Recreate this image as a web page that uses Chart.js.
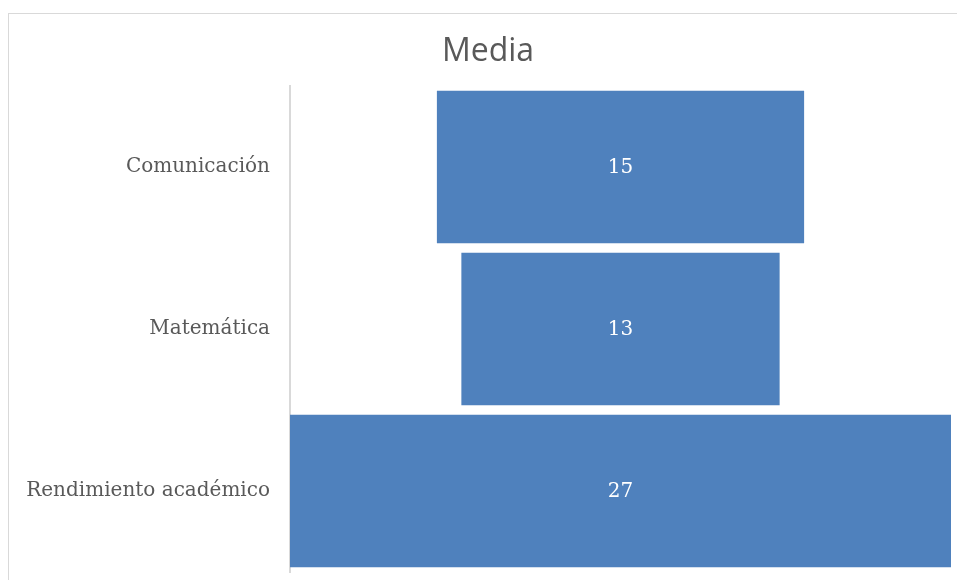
<!DOCTYPE html>
<html>
<head>
<meta charset="utf-8">
<script src="https://cdn.jsdelivr.net/npm/chart.js@4"></script>
<style>
  html, body { margin: 0; padding: 0; background: #fff; overflow: hidden; }
  #frame {
    position: absolute; left: 8px; top: 13px; width: 960px; height: 590px;
    border-top: 1px solid #d9d9d9; border-left: 1px solid #d9d9d9;
  }
  #chart { position: absolute; left: 0; top: 0; }
</style>
</head>
<body>
<div id="frame"><canvas id="chart" width="960" height="582"></canvas></div>
<script>
// datos del embudo
const categorias = ['Comunicación', 'Matemática', 'Rendimiento académico'];
const valores = [15, 13, 27];
const maximo = 27;

const labelFont = '"DejaVu Serif", "Liberation Serif", serif';

// etiquetas dentro de las barras
const etiquetas = {
  id: 'etiquetas',
  afterDatasetsDraw(chart) {
    const ctx = chart.ctx;
    const meta = chart.getDatasetMeta(0);
    ctx.save();
    ctx.fillStyle = '#ffffff';
    ctx.font = '20px ' + labelFont;
    ctx.textAlign = 'center';
    ctx.textBaseline = 'middle';
    meta.data.forEach((bar, i) => {
      const x = (bar.x + bar.base) / 2;
      ctx.fillText(String(valores[i]), x, bar.y + 1);
    });
    ctx.restore();
  }
};

new Chart(document.getElementById('chart'), {
  type: 'bar',
  data: {
    labels: categorias,
    datasets: [{
      data: valores.map(v => [-v / 2, v / 2]),
      backgroundColor: '#4f81bd',
      borderWidth: 0,
      categoryPercentage: 1,
      barPercentage: 0.94
    }]
  },
  options: {
    indexAxis: 'y',
    responsive: false,
    animation: false,
    layout: { padding: { top: 0, right: 18, bottom: 0, left: 16 } },
    plugins: {
      legend: { display: false },
      tooltip: { enabled: false },
      title: {
        display: true,
        text: 'Media',
        color: '#595959',
        font: { family: '"Open Sans", "Noto Sans", sans-serif', size: 32, weight: 'normal' },
        padding: { top: 19, bottom: 14.6 }
      }
    },
    scales: {
      x: { display: false, min: -maximo / 2, max: maximo / 2 },
      y: {
        grid: { display: false },
        border: { display: true, color: '#d9d9d9', width: 2 },
        ticks: { color: '#595959', padding: 12, font: { family: labelFont, size: 20 } },
        afterFit(scale) { scale.width = 265; }
      }
    }
  },
  plugins: [etiquetas]
});
</script>
</body>
</html>
